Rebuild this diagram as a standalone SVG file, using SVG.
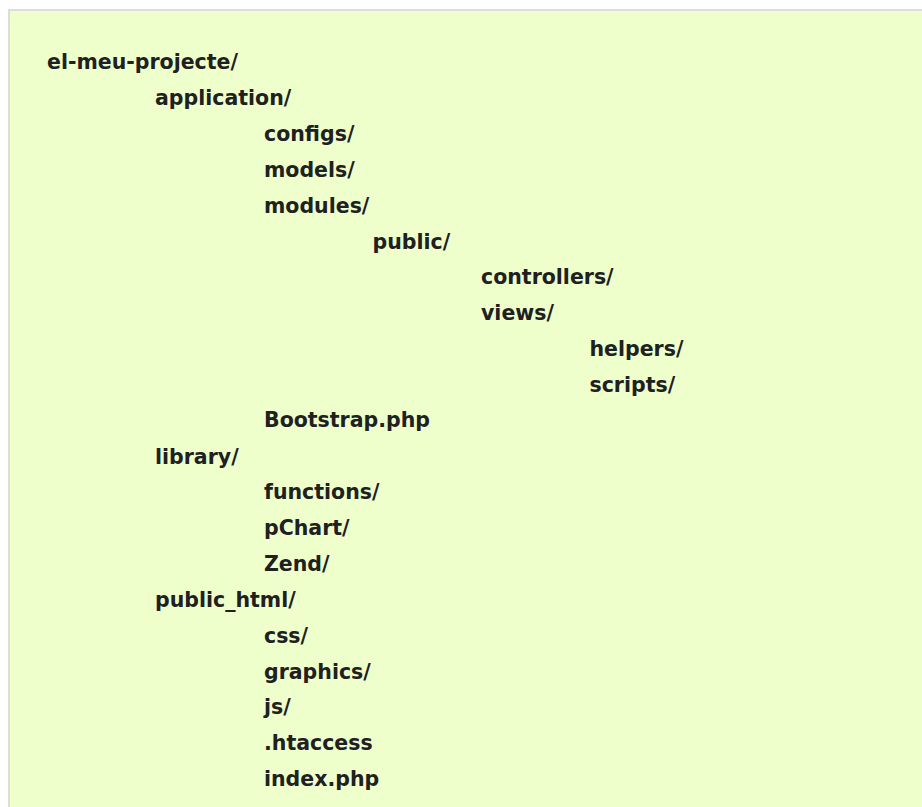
<svg xmlns="http://www.w3.org/2000/svg" width="922" height="807" viewBox="0 0 922 807">
  <style>
    .t { font-family: "DejaVu Sans", Verdana, sans-serif; font-size: 20.5px; font-weight: bold; fill: #202020; }
  </style>
  <rect width="922" height="807" fill="#ffffff"/>
  <!-- code block panel -->
  <rect x="9" y="10" width="930" height="820" fill="#eeffcc" stroke="#dcdcdc" stroke-width="2"/>
  <g id="tree">
    <text class="t" x="47" y="69">el-meu-projecte/</text>
    <text class="t" x="155" y="105">application/</text>
    <text class="t" x="264" y="141">configs/</text>
    <text class="t" x="264" y="176.5">models/</text>
    <text class="t" x="264" y="212.5">modules/</text>
    <text class="t" x="372.5" y="248.5">public/</text>
    <text class="t" x="481" y="284">controllers/</text>
    <text class="t" x="481" y="320">views/</text>
    <text class="t" x="589.5" y="356">helpers/</text>
    <text class="t" x="589.5" y="391.5">scripts/</text>
    <text class="t" x="264" y="427">Bootstrap.php</text>
    <text class="t" x="155" y="463.5">library/</text>
    <text class="t" x="264" y="499">functions/</text>
    <text class="t" x="264" y="535">pChart/</text>
    <text class="t" x="264" y="571">Zend/</text>
    <text class="t" x="155" y="606.5">public_html/</text>
    <text class="t" x="264" y="642.5">css/</text>
    <text class="t" x="264" y="678.5">graphics/</text>
    <text class="t" x="264" y="714">js/</text>
    <text class="t" x="264" y="750">.htaccess</text>
    <text class="t" x="264" y="786">index.php</text>
  </g>
</svg>
